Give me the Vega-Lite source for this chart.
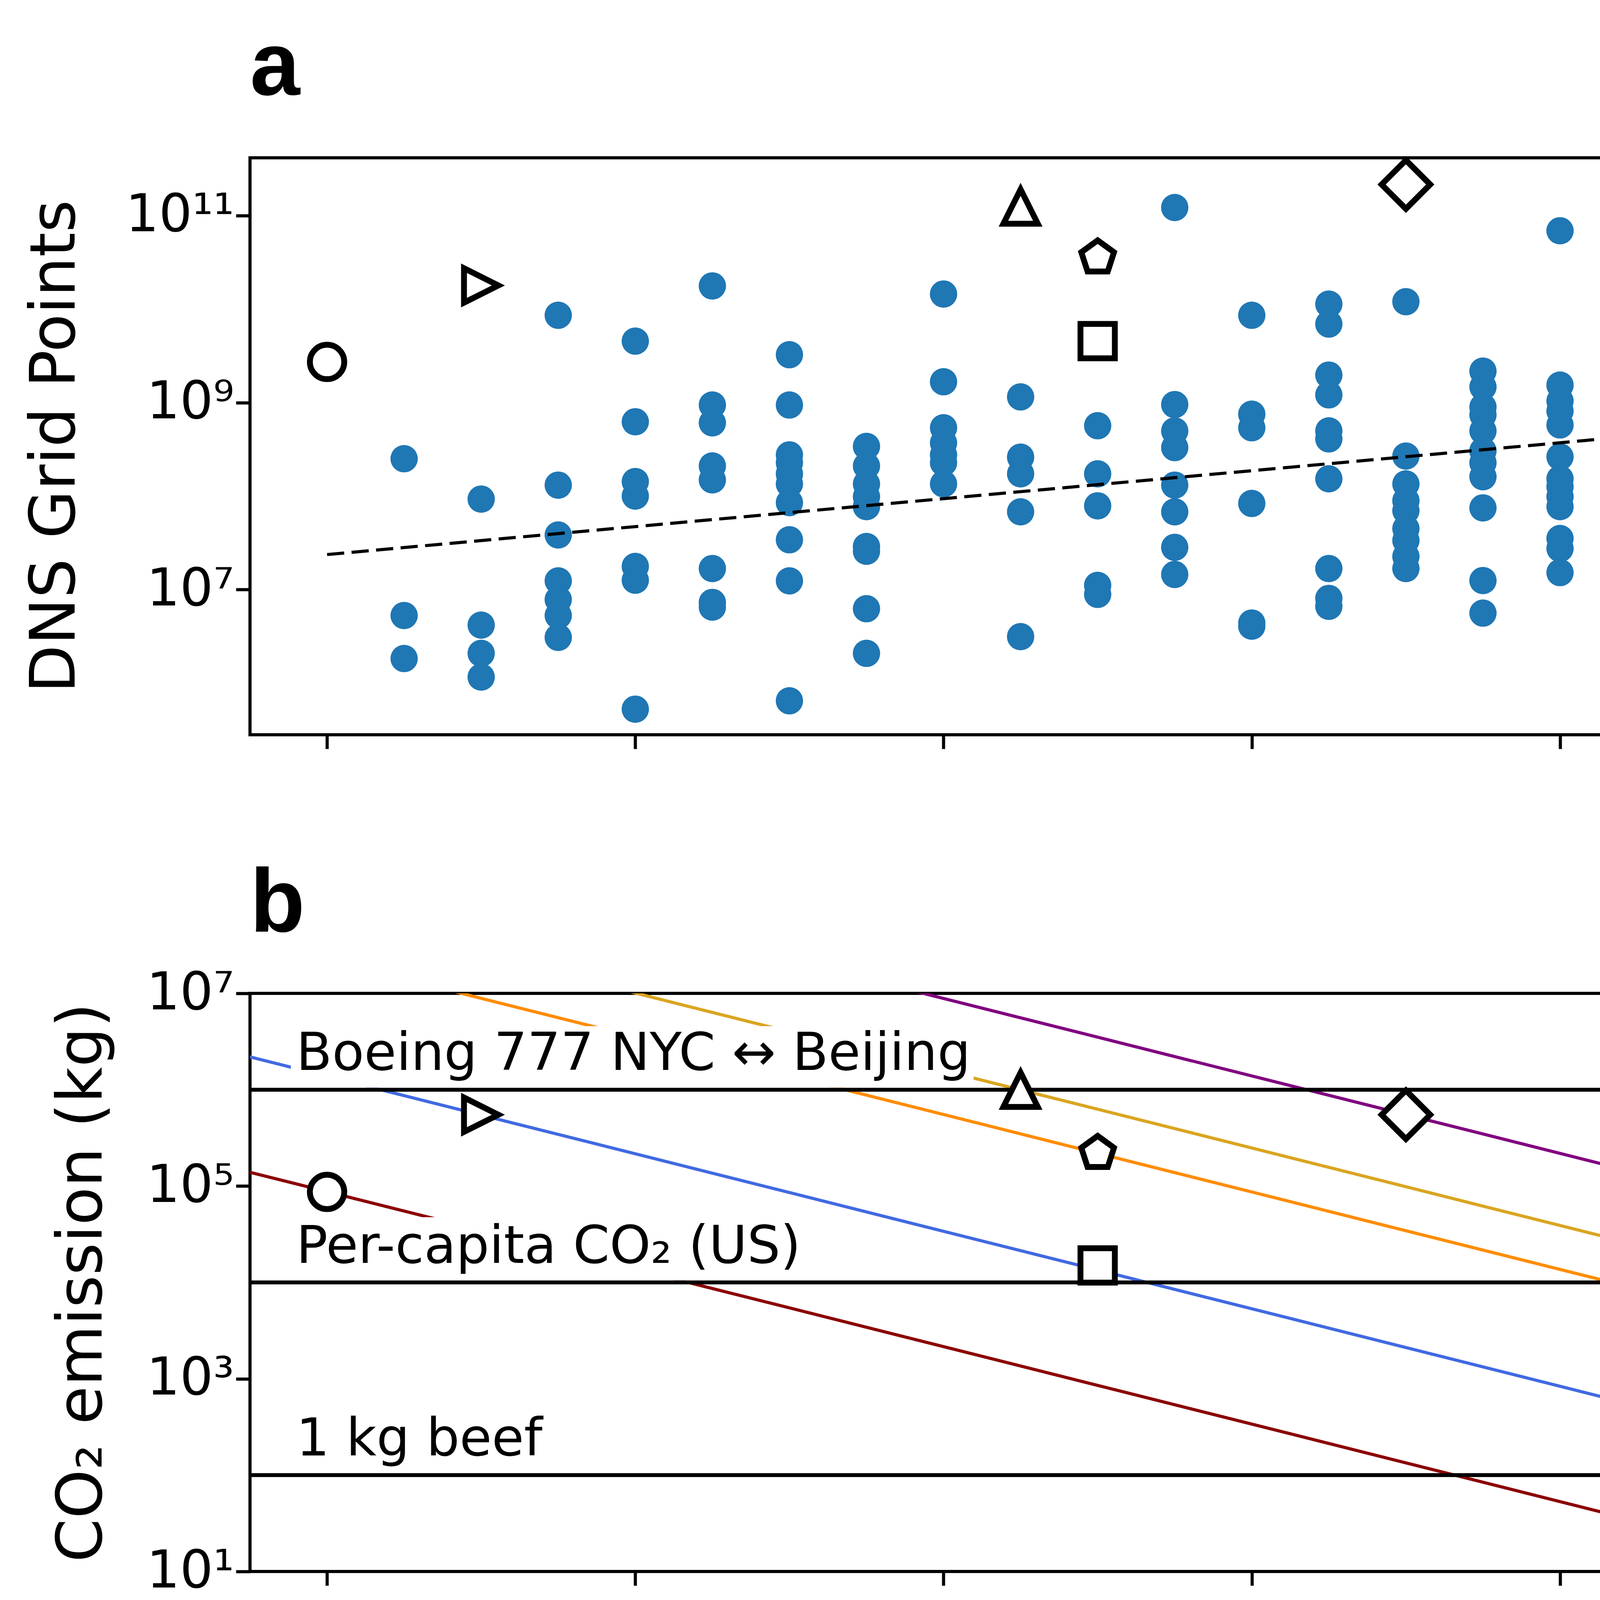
{
  "$schema": "https://vega.github.io/schema/vega-lite/v6.json",
  "background": "white",
  "padding": {"left": 57, "top": 55, "right": 20, "bottom": 20},
  "config": {
    "font": "DejaVu Sans",
    "view": {"stroke": "black", "strokeWidth": 8},
    "axis": {
      "domain": false, "grid": false,
      "tickColor": "black", "tickWidth": 8, "tickSize": 36,
      "labelFont": "DejaVu Sans", "labelFontSize": 134, "labelColor": "black", "labelPadding": 30, "labelLimit": 2000,
      "titleFont": "DejaVu Sans", "titleFontSize": 160, "titleFontWeight": "normal", "titleColor": "black", "titleLimit": 4000
    },
    "title": {"font": "Liberation Sans, Arial, Helvetica, sans-serif", "fontSize": 230, "fontWeight": "bold", "anchor": "start", "frame": "group", "color": "black", "baseline": "alphabetic"}
  },
  "datasets": {
    "dns": [
      {"year": 2005, "grid": 2.51e8}, {"year": 2005, "grid": 5.28e6}, {"year": 2005, "grid": 1.83e6},
      {"year": 2006, "grid": 9.29e7}, {"year": 2006, "grid": 4.17e6}, {"year": 2006, "grid": 2.08e6}, {"year": 2006, "grid": 1.16e6},
      {"year": 2007, "grid": 8.59e9}, {"year": 2007, "grid": 1.31e8}, {"year": 2007, "grid": 3.84e7}, {"year": 2007, "grid": 1.24e7}, {"year": 2007, "grid": 7.82e6}, {"year": 2007, "grid": 5.28e6}, {"year": 2007, "grid": 3.08e6},
      {"year": 2008, "grid": 4.54e9}, {"year": 2008, "grid": 6.24e8}, {"year": 2008, "grid": 1.43e8}, {"year": 2008, "grid": 1.0e8}, {"year": 2008, "grid": 1.77e7}, {"year": 2008, "grid": 1.26e7}, {"year": 2008, "grid": 5.26e5},
      {"year": 2009, "grid": 1.77e10}, {"year": 2009, "grid": 9.42e8}, {"year": 2009, "grid": 6.07e8}, {"year": 2009, "grid": 2.1e8}, {"year": 2009, "grid": 1.49e8}, {"year": 2009, "grid": 1.68e7}, {"year": 2009, "grid": 7.29e6}, {"year": 2009, "grid": 6.49e6},
      {"year": 2010, "grid": 3.25e9}, {"year": 2010, "grid": 9.42e8}, {"year": 2010, "grid": 2.76e8}, {"year": 2010, "grid": 2.27e8}, {"year": 2010, "grid": 1.73e8}, {"year": 2010, "grid": 1.35e8}, {"year": 2010, "grid": 8.51e7}, {"year": 2010, "grid": 3.41e7}, {"year": 2010, "grid": 1.24e7}, {"year": 2010, "grid": 6.46e5},
      {"year": 2011, "grid": 3.4e8}, {"year": 2011, "grid": 2.1e8}, {"year": 2011, "grid": 1.35e8}, {"year": 2011, "grid": 9.86e7}, {"year": 2011, "grid": 7.71e7}, {"year": 2011, "grid": 2.89e7}, {"year": 2011, "grid": 2.57e7}, {"year": 2011, "grid": 6.24e6}, {"year": 2011, "grid": 2.08e6},
      {"year": 2012, "grid": 1.45e10}, {"year": 2012, "grid": 1.67e9}, {"year": 2012, "grid": 5.38e8}, {"year": 2012, "grid": 3.71e8}, {"year": 2012, "grid": 2.76e8}, {"year": 2012, "grid": 2.27e8}, {"year": 2012, "grid": 1.35e8},
      {"year": 2013, "grid": 1.15e9}, {"year": 2013, "grid": 2.61e8}, {"year": 2013, "grid": 1.73e8}, {"year": 2013, "grid": 6.79e7}, {"year": 2013, "grid": 3.14e6},
      {"year": 2014, "grid": 5.66e8}, {"year": 2014, "grid": 1.73e8}, {"year": 2014, "grid": 7.87e7}, {"year": 2014, "grid": 1.11e7}, {"year": 2014, "grid": 8.89e6},
      {"year": 2015, "grid": 1.22e11}, {"year": 2015, "grid": 9.53e8}, {"year": 2015, "grid": 4.98e8}, {"year": 2015, "grid": 3.3e8}, {"year": 2015, "grid": 1.31e8}, {"year": 2015, "grid": 6.79e7}, {"year": 2015, "grid": 2.83e7}, {"year": 2015, "grid": 1.45e7},
      {"year": 2016, "grid": 8.59e9}, {"year": 2016, "grid": 7.52e8}, {"year": 2016, "grid": 5.38e8}, {"year": 2016, "grid": 8.34e7}, {"year": 2016, "grid": 4.39e6}, {"year": 2016, "grid": 4.06e6},
      {"year": 2017, "grid": 1.13e10}, {"year": 2017, "grid": 6.92e9}, {"year": 2017, "grid": 1.97e9}, {"year": 2017, "grid": 1.21e9}, {"year": 2017, "grid": 4.98e8}, {"year": 2017, "grid": 4.09e8}, {"year": 2017, "grid": 1.53e8}, {"year": 2017, "grid": 1.68e7}, {"year": 2017, "grid": 8.05e6}, {"year": 2017, "grid": 6.62e6},
      {"year": 2018, "grid": 1.2e10}, {"year": 2018, "grid": 2.68e8}, {"year": 2018, "grid": 1.35e8}, {"year": 2018, "grid": 8.93e7}, {"year": 2018, "grid": 6.98e7}, {"year": 2018, "grid": 4.49e7}, {"year": 2018, "grid": 3.35e7}, {"year": 2018, "grid": 2.26e7}, {"year": 2018, "grid": 1.68e7},
      {"year": 2019, "grid": 2.17e9}, {"year": 2019, "grid": 1.47e9}, {"year": 2019, "grid": 8.98e8}, {"year": 2019, "grid": 7.38e8}, {"year": 2019, "grid": 4.98e8}, {"year": 2019, "grid": 3.05e8}, {"year": 2019, "grid": 2.27e8}, {"year": 2019, "grid": 1.61e8}, {"year": 2019, "grid": 7.48e7}, {"year": 2019, "grid": 1.25e7}, {"year": 2019, "grid": 5.6e6},
      {"year": 2020, "grid": 6.89e10}, {"year": 2020, "grid": 1.54e9}, {"year": 2020, "grid": 1.04e9}, {"year": 2020, "grid": 8.13e8}, {"year": 2020, "grid": 5.77e8}, {"year": 2020, "grid": 2.63e8}, {"year": 2020, "grid": 1.53e8}, {"year": 2020, "grid": 1.26e8}, {"year": 2020, "grid": 9.86e7}, {"year": 2020, "grid": 7.71e7}, {"year": 2020, "grid": 3.52e7}, {"year": 2020, "grid": 2.75e7}, {"year": 2020, "grid": 1.52e7},
      {"year": 2021, "grid": 6.62e10}, {"year": 2021, "grid": 5.97e9}, {"year": 2021, "grid": 2.17e9}, {"year": 2021, "grid": 1.33e9}, {"year": 2021, "grid": 9.91e8}, {"year": 2021, "grid": 7.03e8}, {"year": 2021, "grid": 5.24e8}, {"year": 2021, "grid": 2.76e8}, {"year": 2021, "grid": 2.06e8}, {"year": 2021, "grid": 1.53e8}, {"year": 2021, "grid": 9.86e7}, {"year": 2021, "grid": 6.65e7}, {"year": 2021, "grid": 4.07e7}, {"year": 2021, "grid": 1.65e7},
      {"year": 2022, "grid": 2.79e10}, {"year": 2022, "grid": 1.34e10}, {"year": 2022, "grid": 8.18e9}, {"year": 2022, "grid": 4.54e9}, {"year": 2022, "grid": 3.38e9}, {"year": 2022, "grid": 2.77e9}, {"year": 2022, "grid": 1.37e9}, {"year": 2022, "grid": 8.55e8}, {"year": 2022, "grid": 5.24e8}, {"year": 2022, "grid": 2.9e8}, {"year": 2022, "grid": 2.38e8}, {"year": 2022, "grid": 1.69e8}, {"year": 2022, "grid": 5.47e7}, {"year": 2022, "grid": 3.87e7}, {"year": 2022, "grid": 1.8e7}, {"year": 2022, "grid": 4.26e6}, {"year": 2022, "grid": 3.33e6},
      {"year": 2023, "grid": 6.43e10}, {"year": 2023, "grid": 3.02e10}, {"year": 2023, "grid": 7.06e9}, {"year": 2023, "grid": 5.0e9}, {"year": 2023, "grid": 1.21e9}, {"year": 2023, "grid": 1.09e9}, {"year": 2023, "grid": 4.98e8}, {"year": 2023, "grid": 3.71e8}, {"year": 2023, "grid": 2.63e8}, {"year": 2023, "grid": 8.75e7}, {"year": 2023, "grid": 2.54e7},
      {"year": 2024, "grid": 7.74e8}
    ],
    "trend": [
      {"year": 2004, "grid": 2.37e7},
      {"year": 2024, "grid": 7.4e8}
    ],
    "studies": [
      {"study": "del Álamo et al. (2004)", "year": 2004, "grid": 2.72e9, "co2": 8.7e4},
      {"study": "Hoyas & Jiménez (2006)", "year": 2006, "grid": 1.79e10, "co2": 5.5e5},
      {"study": "Lee et al. (2013)", "year": 2013, "grid": 1.25e11, "co2": 1.0e6},
      {"study": "Bernardini et al. (2014)", "year": 2014, "grid": 3.56e10, "co2": 2.2e5},
      {"study": "Lozano & Jiménez (2014)", "year": 2014, "grid": 4.54e9, "co2": 1.5e4},
      {"study": "Yamamoto & Tsuji (2018)", "year": 2018, "grid": 2.15e11, "co2": 5.5e5}
    ],
    "relines": [
      {"re": "Reτ = 1000", "year": 2003, "co2": 1.39e5}, {"re": "Reτ = 1000", "year": 2025, "co2": 5.25},
      {"re": "Reτ = 2000", "year": 2003, "co2": 2.19e6}, {"re": "Reτ = 2000", "year": 2025, "co2": 82.6},
      {"re": "Reτ = 4000", "year": 2003, "co2": 3.56e7}, {"re": "Reτ = 4000", "year": 2025, "co2": 1349},
      {"re": "Reτ = 5200", "year": 2003, "co2": 1.02e8}, {"re": "Reτ = 5200", "year": 2025, "co2": 3855},
      {"re": "Reτ = 8000", "year": 2003, "co2": 5.7e8}, {"re": "Reτ = 8000", "year": 2025, "co2": 2.16e4}
    ],
    "refs": [
      {"label": "Boeing 777 NYC ↔ Beijing", "co2": 1e6, "year": 2003.6, "texty": 1.6e6, "x0": 2003.53, "x1": 2012.39, "y0": 1.05e6, "y1": 4.57e6},
      {"label": "Per-capita CO₂ (US)", "co2": 1e4, "year": 2003.6, "texty": 1.6e4, "x0": 2003.53, "x1": 2010.17, "y0": 1.05e4, "y1": 4.75e4},
      {"label": "1 kg beef", "co2": 100, "year": 2003.6, "texty": 160, "x0": 2003.53, "x1": 2006.9, "y0": 105, "y1": 468}
    ]
  },
  "resolve": {
    "scale": {"x": "independent", "y": "independent", "shape": "independent", "color": "independent"},
    "legend": {"shape": "independent", "color": "independent"}
  },
  "spacing": 272,
  "vconcat": [
    {
      "width": 4340,
      "height": 1477,
      "title": {"text": "a", "offset": 89},
      "layer": [
        {
          "data": {"name": "dns"},
          "mark": {"type": "circle", "color": "#1f77b4", "size": 4900, "opacity": 1},
          "encoding": {
            "x": {"field": "year", "type": "quantitative", "scale": {"domain": [2003, 2025], "nice": false, "zero": false},
                  "axis": {"values": [2004, 2008, 2012, 2016, 2020, 2024], "labels": false, "title": null}},
            "y": {"field": "grid", "type": "quantitative", "scale": {"type": "log", "domain": [2.8e5, 4.15e11], "nice": false},
                  "axis": {"values": [1e7, 1e9, 1e11], "title": "DNS Grid Points", "titleX": -450, "titleBaseline": "alphabetic", "labelPadding": 5,
                           "labelExpr": "datum.value > 1e10 ? '10¹¹' : datum.value > 1e8 ? '10⁹' : '10⁷'"}}
          }
        },
        {
          "data": {"name": "trend"},
          "mark": {"type": "line", "color": "black", "strokeWidth": 8, "strokeDash": [44, 19]},
          "encoding": {
            "x": {"field": "year", "type": "quantitative"},
            "y": {"field": "grid", "type": "quantitative"}
          }
        },
        {
          "data": {"name": "studies"},
          "mark": {"type": "point", "filled": false, "color": "black", "stroke": "black", "strokeWidth": 15, "size": 7744, "opacity": 1},
          "encoding": {
            "x": {"field": "year", "type": "quantitative"},
            "y": {"field": "grid", "type": "quantitative"},
            "shape": {
              "field": "study", "type": "nominal",
              "scale": {
                "domain": ["del Álamo et al. (2004)", "Hoyas & Jiménez (2006)", "Lee et al. (2013)", "Bernardini et al. (2014)", "Lozano & Jiménez (2014)", "Yamamoto & Tsuji (2018)"],
                "range": ["circle", "M1,0L-1,-1L-1,1Z", "M0,-1L1,1L-1,1Z", "M0,-1L0.951,-0.309L0.588,0.809L-0.588,0.809L-0.951,-0.309Z", "M-1,-1L1,-1L1,1L-1,1Z", "M0,-1.414L1.414,0L0,1.414L-1.414,0Z"]
              },
              "legend": {
                "orient": "none", "legendX": 4566, "legendY": 175, "title": null, "padding": 0,
                "labelFont": "DejaVu Sans", "labelFontSize": 137, "labelColor": "black", "labelLimit": 3000, "labelOffset": 174,
                "symbolSize": 7744, "symbolStrokeWidth": 15, "symbolStrokeColor": "black", "symbolOpacity": 1,
                "rowPadding": 47
              }
            }
          }
        }
      ]
    },
    {
      "width": 4340,
      "height": 1480,
      "title": {"text": "b", "offset": 43},
      "layer": [
        {
          "data": {"name": "relines"},
          "mark": {"type": "line", "strokeWidth": 8, "clip": true},
          "encoding": {
            "x": {"field": "year", "type": "quantitative", "scale": {"domain": [2003, 2025], "nice": false, "zero": false},
                  "axis": {"values": [2004, 2008, 2012, 2016, 2020, 2024], "format": "d", "title": "Year", "titlePadding": 50}},
            "y": {"field": "co2", "type": "quantitative", "scale": {"type": "log", "domain": [10, 1e7], "nice": false},
                  "axis": {"values": [10, 1000, 1e5, 1e7], "title": "CO₂ emission (kg)", "titleX": -381, "titleBaseline": "alphabetic", "labelPadding": 5,
                           "labelExpr": "datum.value > 1e6 ? '10⁷' : datum.value > 1e4 ? '10⁵' : datum.value > 100 ? '10³' : '10¹'"}},
            "color": {
              "field": "re", "type": "nominal",
              "scale": {
                "domain": ["Reτ = 1000", "Reτ = 2000", "Reτ = 4000", "Reτ = 5200", "Reτ = 8000"],
                "range": ["#8b0000", "#4169e1", "#ff8c00", "#daa520", "#800080"]
              },
              "legend": {
                "orient": "none", "legendX": 4485, "legendY": 234, "title": null, "padding": 0,
                "labelFont": "DejaVu Sans", "labelFontSize": 137, "labelColor": "black", "labelLimit": 3000, "labelOffset": 100,
                "symbolType": "stroke", "symbolSize": 77284, "symbolStrokeWidth": 10, "clipHeight": 137, "rowPadding": 60
              }
            }
          }
        },
        {
          "data": {"name": "refs"},
          "mark": {"type": "rect", "color": "white", "opacity": 1},
          "encoding": {
            "x": {"field": "x0", "type": "quantitative"},
            "x2": {"field": "x1"},
            "y": {"field": "y0", "type": "quantitative"},
            "y2": {"field": "y1"}
          }
        },
        {
          "data": {"name": "refs"},
          "mark": {"type": "rule", "color": "black", "strokeWidth": 10},
          "encoding": {
            "y": {"field": "co2", "type": "quantitative"}
          }
        },
        {
          "data": {"name": "refs"},
          "mark": {"type": "text", "align": "left", "baseline": "alphabetic", "font": "DejaVu Sans", "fontSize": 134, "color": "black"},
          "encoding": {
            "x": {"field": "year", "type": "quantitative"},
            "y": {"field": "texty", "type": "quantitative"},
            "text": {"field": "label"}
          }
        },
        {
          "data": {"name": "studies"},
          "mark": {"type": "point", "filled": true, "fill": "white", "stroke": "black", "strokeWidth": 15, "size": 7744, "opacity": 1},
          "encoding": {
            "x": {"field": "year", "type": "quantitative"},
            "y": {"field": "co2", "type": "quantitative"},
            "shape": {
              "field": "study", "type": "nominal",
              "scale": {
                "domain": ["del Álamo et al. (2004)", "Hoyas & Jiménez (2006)", "Lee et al. (2013)", "Bernardini et al. (2014)", "Lozano & Jiménez (2014)", "Yamamoto & Tsuji (2018)"],
                "range": ["circle", "M1,0L-1,-1L-1,1Z", "M0,-1L1,1L-1,1Z", "M0,-1L0.951,-0.309L0.588,0.809L-0.588,0.809L-0.951,-0.309Z", "M-1,-1L1,-1L1,1L-1,1Z", "M0,-1.414L1.414,0L0,1.414L-1.414,0Z"]
              },
              "legend": null
            }
          }
        }
      ]
    }
  ]
}
